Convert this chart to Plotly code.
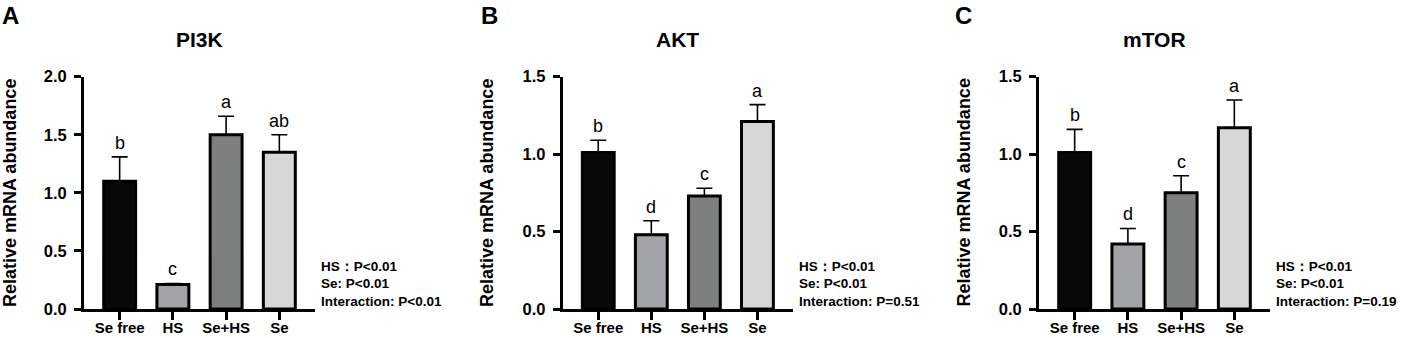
import plotly.graph_objects as go

# ---------------- data ----------------
categories = ["Se free", "HS", "Se+HS", "Se"]

pi3k_mean = [1.10, 0.21, 1.50, 1.35]
pi3k_err = [0.21, 0.01, 0.16, 0.15]
pi3k_letters = ["b", "c", "a", "ab"]

akt_mean = [1.01, 0.48, 0.73, 1.21]
akt_err = [0.08, 0.09, 0.05, 0.11]
akt_letters = ["b", "d", "c", "a"]

mtor_mean = [1.01, 0.42, 0.75, 1.17]
mtor_err = [0.15, 0.10, 0.11, 0.18]
mtor_letters = ["b", "d", "c", "a"]

titles = ["PI3K", "AKT", "mTOR"]
panel_labels = ["A", "B", "C"]
stats_text = [
    ["HS：P<0.01", "Se: P<0.01", "Interaction: P<0.01"],
    ["HS：P<0.01", "Se: P<0.01", "Interaction: P=0.51"],
    ["HS：P<0.01", "Se: P<0.01", "Interaction: P=0.19"],
]
y_max = [2.0, 1.5, 1.5]
y_title = "Relative mRNA abundance"

bar_colors = ["#080808", "#a2a3a6", "#7e7f7f", "#d6d7d6"]

# ---------------- layout geometry ----------------
W, H = 1401, 338
FONT = "Liberation Sans, Arial, sans-serif"
x_domains = [(84, 315), (562.7, 793), (1039, 1270)]
y_dom = [29 / H, 261.3 / H]
ytitle_x = [10, 487, 963.5]
label_x = [10, 489, 963]

fig = go.Figure()
means = [pi3k_mean, akt_mean, mtor_mean]
errs = [pi3k_err, akt_err, mtor_err]
letters = [pi3k_letters, akt_letters, mtor_letters]

annotations = []
for i in range(3):
    xa = "x" if i == 0 else f"x{i+1}"
    ya = "y" if i == 0 else f"y{i+1}"
    fig.add_trace(go.Bar(
        x=categories, y=means[i], width=0.6,
        marker=dict(color=bar_colors, line=dict(color="black", width=3)),
        error_y=dict(type="data", symmetric=False, array=errs[i],
                     arrayminus=[0] * len(errs[i]), color="black",
                     thickness=1.6, width=8),
        xaxis=xa, yaxis=ya, showlegend=False,
    ))
    x0, x1 = x_domains[i]
    axis_common = dict(showline=True, linecolor="black", linewidth=3,
                       ticks="outside", tickwidth=3, tickcolor="black",
                       showgrid=False, zeroline=False, automargin=False)
    fig.layout[f"xaxis{'' if i == 0 else i+1}"] = dict(
        domain=[x0 / W, x1 / W], anchor=ya, range=[-0.67, 3.67],
        type="category", ticklen=8, ticklabelstandoff=-5,
        tickfont=dict(family=FONT, size=15, color="black", weight="bold"),
        **axis_common)
    fig.layout[f"yaxis{'' if i == 0 else i+1}"] = dict(
        domain=y_dom, anchor=xa, range=[0, y_max[i]], dtick=0.5,
        tickformat=".1f", ticklen=7, ticklabelstandoff=4,
        tickfont=dict(family=FONT, size=16.5, color="black", weight="bold"),
        **axis_common)

    # significance letters
    for c, m, e, l in zip(categories, means[i], errs[i], letters[i]):
        annotations.append(dict(
            x=c, y=m + e, xref=xa, yref=ya, text=l, showarrow=False,
            yanchor="bottom", yshift=2,
            font=dict(family=FONT, size=18, color="black")))
    # title
    annotations.append(dict(
        x=(x0 + x1) / 2 / W, y=1 - 39 / H, xref="paper", yref="paper",
        text=titles[i], showarrow=False, xanchor="center", yanchor="middle",
        font=dict(family=FONT, size=21, color="black", weight="bold")))
    # panel label
    annotations.append(dict(
        x=label_x[i] / W, y=1 - 15 / H, xref="paper", yref="paper",
        text=panel_labels[i], showarrow=False, xanchor="center",
        yanchor="middle",
        font=dict(family=FONT, size=24, color="black", weight="bold")))
    # y title
    annotations.append(dict(
        x=ytitle_x[i] / W, y=1 - 193 / H, xref="paper", yref="paper",
        text=y_title, showarrow=False, textangle=-90, xanchor="center",
        yanchor="middle",
        font=dict(family=FONT, size=18, color="black", weight="bold")))
    # stats text
    for k, (t, yy) in enumerate(zip(stats_text[i], [266, 283.5, 301])):
        annotations.append(dict(
            x=(x1 + 4) / W, y=1 - yy / H, xref="paper", yref="paper",
            text=t, showarrow=False, xanchor="left", yanchor="middle",
            font=dict(family=FONT, size=13.5, color="black", weight="bold")))

fig.update_layout(
    width=W, height=H,
    margin=dict(l=0, r=0, t=0, b=0, pad=0, autoexpand=False),
    autosize=False,
    paper_bgcolor="white", plot_bgcolor="white",
    annotations=annotations, bargap=0.4,
)

fig.write_html("out.html",
               config={"displayModeBar": False, "responsive": False},
               post_script="document.documentElement.style.margin='0';"
                           "document.body.style.margin='0';"
                           "document.body.style.overflow='hidden';"
                           "var g=document.getElementById('{plot_id}');"
                           "g.style.position='absolute';"
                           "g.style.top='0px';g.style.left='0px';")
